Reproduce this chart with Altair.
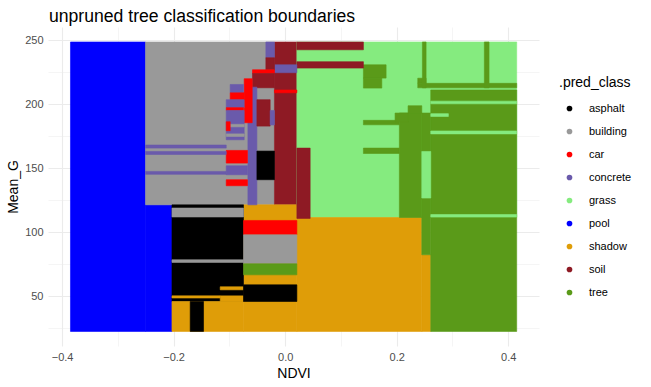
import altair as alt
import pandas as pd

classes = ["asphalt", "building", "car", "concrete", "grass", "pool", "shadow", "soil", "tree"]
colors = ["#000000", "#999999", "#FF0000", "#6A5AAB", "#85EB7F", "#0000FF", "#DF9D08", "#8E1A24", "#5A9A19"]

# Predicted-class regions (paint order: later rows drawn on top)
region_class = [
    "pool", "pool", "building", "soil", "grass", "shadow", "shadow", "shadow",
    "tree", "tree", "tree", "grass",
    "grass", "grass", "grass", "grass",
    "tree", "tree", "tree", "tree",
    "tree", "tree", "tree", "tree",
    "tree", "tree",
    "soil", "soil", "soil", "concrete", "car",
    "concrete", "soil", "car", "soil", "concrete", "car",
    "concrete", "car", "concrete", "car", "concrete", "building", "building", "car",
    "car", "concrete", "car",
    "concrete", "concrete", "concrete",
    "soil", "concrete", "asphalt",
    "asphalt", "building", "building", "shadow", "shadow", "shadow", "shadow", "asphalt",
    "car", "building", "tree", "asphalt",
]
ndvi_lo = [
    -0.385, -0.2504, -0.2504, -0.0192, 0.0210, -0.0747, 0.0210, 0.2450,
    0.2611, 0.2048, 0.2450, 0.2450,
    0.2611, 0.2611, 0.2611, 0.2611,
    0.2378, 0.2378, 0.2461, 0.3572,
    0.1403, 0.1403, 0.1403, 0.1403,
    0.1971, 0.2204,
    0.0210, 0.0210, 0.0210, -0.0192, -0.0192,
    -0.0346, -0.0346, -0.0586, -0.0586, -0.0668, -0.0735,
    -0.0986, -0.0986, -0.1057, -0.1057, -0.1057, -0.0986, -0.1057, -0.1057,
    -0.1057, -0.1057, -0.1057,
    -0.2504, -0.2504, -0.2504,
    -0.0507, -0.0269, -0.0507,
    -0.2030, -0.2030, -0.2030, -0.2030, -0.1165, -0.2030, -0.1165, -0.1703,
    -0.0747, -0.0747, -0.0747, -0.0747,
]
ndvi_hi = [
    -0.2504, -0.2030, -0.0192, 0.0210, 0.4152, 0.0210, 0.2450, 0.2611,
    0.4152, 0.2450, 0.2611, 0.2611,
    0.4152, 0.2927, 0.4152, 0.4152,
    0.4152, 0.2527, 0.2527, 0.3656,
    0.1810, 0.1733, 0.2048, 0.2048,
    0.2204, 0.2450,
    0.1403, 0.1403, 0.0448, 0.0210, 0.0210,
    -0.0192, -0.0192, -0.0192, -0.0192, -0.0507, -0.0591,
    -0.0747, -0.0735, -0.0735, -0.0747, -0.0735, -0.0735, -0.0735, -0.0986,
    -0.0676, -0.0676, -0.0676,
    -0.1057, -0.1057, -0.1057,
    -0.0269, -0.0192, -0.0192,
    -0.0747, -0.0747, -0.0747, -0.0747, -0.0747, -0.1165, -0.0747, -0.1464,
    0.0210, 0.0210, 0.0210, 0.0210,
]
g_lo = [
    22.7, 22.7, 121.6, 121.6, 111.7, 22.7, 22.7, 22.7,
    22.7, 111.7, 82.6, 126.9,
    200.5, 190.6, 177.0, 112.0,
    213.0, 216.5, 213.0, 213.0,
    220.6, 212.8, 184.1, 161.7,
    186.6, 193.3,
    242.7, 228.4, 111.0, 224.8, 209.1,
    236.5, 227.1, 224.2, 213.0, 121.6, 185.7,
    209.1, 203.7, 197.5, 195.3, 172.4, 182.5, 175.0, 179.5,
    154.2, 145.1, 136.5,
    165.9, 160.9, 145.4,
    183.1, 184.0, 141.2,
    46.1, 112.1, 76.6, 22.7, 46.1, 48.8, 55.2, 22.7,
    98.2, 75.5, 66.9, 46.1,
]
g_hi = [
    248.8, 121.6, 248.8, 248.8, 248.8, 121.6, 111.7, 82.6,
    211.3, 193.3, 193.3, 163.3,
    202.6, 192.8, 179.3, 114.0,
    216.5, 220.5, 248.8, 248.8,
    231.0, 220.6, 187.6, 165.9,
    193.3, 199.0,
    248.8, 233.4, 165.9, 231.0, 211.3,
    248.8, 236.5, 227.1, 224.2, 213.5, 220.1,
    215.6, 209.1, 203.7, 197.5, 195.3, 184.5, 177.0, 186.5,
    164.1, 152.1, 141.2,
    168.3, 163.3, 147.7,
    203.7, 195.3, 163.6,
    121.6, 119.1, 78.7, 46.1, 50.5, 50.5, 57.6, 46.1,
    109.4, 98.2, 75.5, 59.1,
]

x_ticks = [-0.4, -0.3, -0.2, -0.1, 0.0, 0.1, 0.2, 0.3, 0.4]
y_ticks = [25, 50, 75, 100, 125, 150, 175, 200, 225, 250]

df = pd.DataFrame({
    "cls": region_class,
    "x1": ndvi_lo,
    "x2": ndvi_hi,
    "y1": g_lo,
    "y2": g_hi,
})

FONT = "Liberation Sans"

x_axis = alt.Axis(
    values=x_ticks,
    labelExpr="abs(round(datum.value*10)) % 2 == 0 ? format(datum.value, '.1f') : ''",
    domain=False, ticks=False, tickSize=0,
    gridColor="#ebebeb",
    gridWidth={"condition": {"test": "abs(round(datum.value*10)) % 2 == 1", "value": 0.5}, "value": 1.1},
    labelFont=FONT, labelFontSize=11, labelColor="#4d4d4d", labelPadding=5,
    titleFont=FONT, titleFontSize=14, titleFontWeight="normal", titleColor="#000000", titlePadding=4,
)
y_axis = alt.Axis(
    values=y_ticks,
    labelExpr="datum.value % 50 == 0 ? datum.value : ''",
    domain=False, ticks=False, tickSize=0,
    gridColor="#ebebeb",
    gridWidth={"condition": {"test": "datum.value % 50 != 0", "value": 0.5}, "value": 1.1},
    labelFont=FONT, labelFontSize=11, labelColor="#4d4d4d", labelPadding=5,
    titleFont=FONT, titleFontSize=14, titleFontWeight="normal", titleColor="#000000", titlePadding=4,
)

class_scale = alt.Scale(domain=classes, range=colors)

chart = alt.Chart(df).mark_rect(strokeWidth=0.6).encode(
    x=alt.X("x1:Q", title="NDVI",
            scale=alt.Scale(domain=[-0.4253, 0.4552], nice=False, zero=False), axis=x_axis),
    x2="x2:Q",
    y=alt.Y("y1:Q", title="Mean_G",
            scale=alt.Scale(domain=[11.33, 260.5], nice=False, zero=False), axis=y_axis),
    y2="y2:Q",
    color=alt.Color("cls:N", title=".pred_class",
                    scale=class_scale,
                    legend=alt.Legend(orient="none", legendX=511, legendY=49,
                                      symbolType="circle", symbolSize=32, symbolStrokeWidth=0,
                                      titleFont=FONT, titleFontSize=14, titleFontWeight="normal",
                                      titleColor="#000000", titlePadding=13,
                                      labelFont=FONT, labelFontSize=11, labelColor="#000000",
                                      labelOffset=14, rowPadding=11, symbolOffset=5, padding=0)),
    stroke=alt.Color("cls:N", scale=class_scale, legend=None),
).properties(
    width=491,
    height=319,
    title=alt.TitleParams(text="unpruned tree classification boundaries", anchor="start",
                          frame="group",
                          font=FONT, fontSize=17.6, fontWeight="normal", color="#000000",
                          dx=1, dy=20, offset=7, baseline="alphabetic"),
    autosize=alt.AutoSizeParams(type="none"),
    padding={"left": 48, "top": 27, "right": 112, "bottom": 41},
    background="white",
).configure_view(stroke=None)

chart.save("out.html", embed_options={"renderer": "svg", "actions": False})
